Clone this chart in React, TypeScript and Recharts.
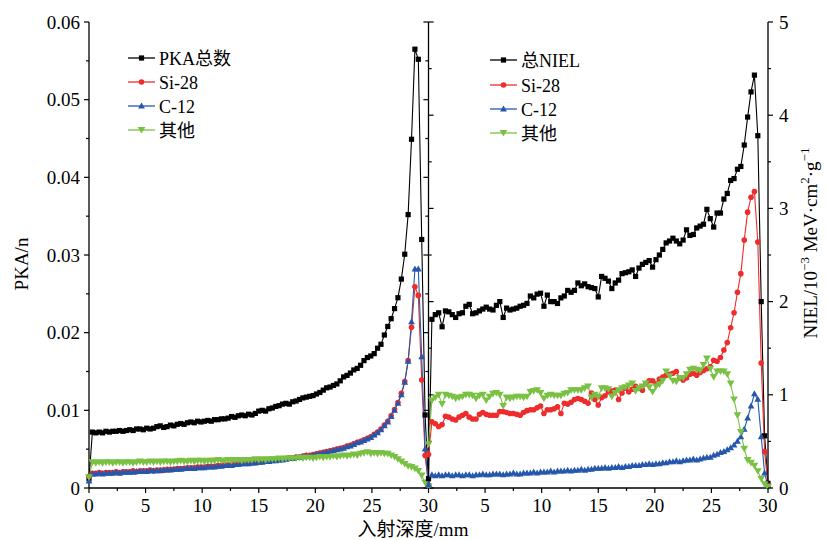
import React from "react";
import { LineChart, Line, XAxis, YAxis, ReferenceLine } from "recharts";

const FONT = "Liberation Serif, DejaVu Serif, Noto Sans CJK SC, serif";
const BLACK = "#000000";
const RED = "#ee2c2c";
const BLUE = "#2557ad";
const GREEN = "#79c143";

// depth (mm), same grid for both panels
const depth = [
  0, 0.3, 0.6, 0.9, 1.2, 1.5, 1.8, 2.1, 2.4, 2.7,
  3, 3.3, 3.6, 3.9, 4.2, 4.5, 4.8, 5.1, 5.4, 5.7,
  6, 6.3, 6.6, 6.9, 7.2, 7.5, 7.8, 8.1, 8.4, 8.7,
  9, 9.3, 9.6, 9.9, 10.2, 10.5, 10.8, 11.1, 11.4, 11.7,
  12, 12.3, 12.6, 12.9, 13.2, 13.5, 13.8, 14.1, 14.4, 14.7,
  15, 15.3, 15.6, 15.9, 16.2, 16.5, 16.8, 17.1, 17.4, 17.7,
  18, 18.3, 18.6, 18.9, 19.2, 19.5, 19.8, 20.1, 20.4, 20.7,
  21, 21.3, 21.6, 21.9, 22.2, 22.5, 22.8, 23.1, 23.4, 23.7,
  24, 24.3, 24.6, 24.9, 25.2, 25.5, 25.8, 26.1, 26.4, 26.7,
  27, 27.3, 27.6, 27.9, 28.2, 28.5, 28.8, 29.1, 29.4, 29.7,
  30,
];

// PKA/n, in units of 1e-3
const pkaTotal = [
  1.2, 7.2, 7.1, 7.2, 7.1, 7.3, 7.2, 7.3, 7.3, 7.4,
  7.3, 7.4, 7.5, 7.4, 7.6, 7.6, 7.5, 7.7, 7.6, 7.7,
  7.9, 8.0, 7.8, 7.9, 8.1, 8.0, 8.2, 8.3, 8.2, 8.4,
  8.5, 8.4, 8.6, 8.5, 8.6, 8.7, 8.6, 8.8, 8.8, 8.9,
  8.9, 9.0, 9.2, 9.1, 9.3, 9.4, 9.3, 9.5, 9.4, 9.6,
  9.9, 10.0, 9.9, 10.2, 10.3, 10.5, 10.6, 10.8, 10.9, 10.8,
  11.1, 11.2, 11.4, 11.6, 11.7, 11.8, 11.9, 12.1, 12.3, 12.6,
  12.9, 13.0, 13.2, 13.4, 13.8, 14.3, 14.5, 14.8, 15.2, 15.4,
  15.8, 16.4, 16.8, 17.0, 17.3, 18.0, 18.5, 19.7, 20.8, 21.8,
  23.1, 24.5, 26.9, 30.1, 35.2, 44.9, 56.5, 55.2, 32.0, 9.4,
  0.3,
];
const pkaSi = [
  1.5, 1.9, 1.9, 2.0, 1.9, 2.0, 2.0, 2.0, 2.1, 2.0,
  2.1, 2.1, 2.1, 2.2, 2.1, 2.2, 2.2, 2.2, 2.3, 2.2,
  2.3, 2.3, 2.3, 2.4, 2.4, 2.4, 2.5, 2.5, 2.5, 2.6,
  2.6, 2.6, 2.7, 2.7, 2.7, 2.8, 2.8, 2.8, 2.9, 2.9,
  3.0, 3.0, 3.0, 3.1, 3.1, 3.2, 3.2, 3.2, 3.3, 3.3,
  3.4, 3.4, 3.5, 3.5, 3.6, 3.6, 3.7, 3.7, 3.8, 3.9,
  3.9, 4.0, 4.0, 4.1, 4.2, 4.2, 4.3, 4.4, 4.5, 4.6,
  4.7, 4.8, 4.9, 5.0, 5.1, 5.2, 5.4, 5.5, 5.7, 5.9,
  6.0, 6.2, 6.4, 6.6, 6.9, 7.2, 7.6, 8.1, 8.6, 9.3,
  10.1, 11.0, 12.2, 13.7, 16.4, 20.7, 25.9, 24.8, 13.9, 4.2,
  0.3,
];
const pkaC = [
  0.9, 1.8, 1.8, 1.9, 1.8, 1.9, 1.9, 1.9, 2.0, 1.9,
  2.0, 2.0, 2.0, 2.0, 2.1, 2.1, 2.1, 2.1, 2.2, 2.2,
  2.2, 2.2, 2.3, 2.3, 2.3, 2.4, 2.4, 2.4, 2.5, 2.5,
  2.5, 2.5, 2.6, 2.6, 2.6, 2.7, 2.7, 2.7, 2.8, 2.8,
  2.9, 2.9, 2.9, 3.0, 3.0, 3.1, 3.1, 3.1, 3.2, 3.2,
  3.3, 3.3, 3.4, 3.4, 3.5, 3.5, 3.6, 3.6, 3.7, 3.8,
  3.8, 3.9, 3.9, 4.0, 4.1, 4.1, 4.2, 4.3, 4.4, 4.5,
  4.6, 4.7, 4.8, 4.9, 5.0, 5.1, 5.3, 5.4, 5.6, 5.8,
  5.9, 6.1, 6.3, 6.5, 6.8, 7.1, 7.5, 8.0, 8.5, 9.2,
  10.0, 10.9, 12.0, 13.6, 16.3, 21.4, 28.2, 28.2, 16.9, 5.0,
  0.5,
];
const pkaOther = [
  1.4, 3.3, 3.2, 3.3, 3.2, 3.3, 3.3, 3.2, 3.3, 3.3,
  3.2, 3.3, 3.3, 3.2, 3.3, 3.4, 3.3, 3.3, 3.4, 3.3,
  3.4, 3.3, 3.4, 3.4, 3.3, 3.4, 3.4, 3.5, 3.4, 3.4,
  3.5, 3.4, 3.5, 3.5, 3.4, 3.5, 3.5, 3.5, 3.6, 3.5,
  3.5, 3.6, 3.5, 3.6, 3.6, 3.5, 3.6, 3.6, 3.6, 3.7,
  3.6, 3.7, 3.6, 3.7, 3.7, 3.7, 3.8, 3.7, 3.8, 3.8,
  3.8, 3.8, 3.9, 3.8, 3.9, 3.9, 3.8, 3.9, 4.0, 3.9,
  4.0, 4.0, 4.1, 4.0, 4.1, 4.2, 4.1, 4.2, 4.3, 4.2,
  4.4, 4.5, 4.6, 4.4, 4.5, 4.4, 4.5, 4.4, 4.4, 4.2,
  4.0, 3.7, 3.4, 3.1, 2.8, 2.7, 2.5, 2.2, 1.6, 0.7,
  0.2,
];

// NIEL, 1e-3 MeV cm2/g
const nielTotal = [
  0.10, 1.81, 1.86, 1.88, 1.73, 1.90, 1.89, 1.86, 1.83, 1.87,
  1.88, 1.95, 1.97, 1.87, 1.88, 1.90, 1.92, 1.94, 1.92, 1.91,
  1.96, 2.00, 1.83, 1.93, 1.91, 1.92, 1.93, 1.95, 1.96, 1.98,
  2.06, 2.04, 2.08, 2.09, 1.95, 2.07, 2.00, 2.00, 1.98, 2.04,
  2.06, 2.12, 2.10, 2.12, 2.20, 2.17, 2.19, 2.16, 2.15, 2.14,
  2.05, 2.27, 2.25, 2.22, 2.14, 2.20, 2.23, 2.30, 2.31, 2.32,
  2.34, 2.27, 2.36, 2.40, 2.42, 2.44, 2.37, 2.45, 2.50, 2.56,
  2.63, 2.65, 2.68, 2.65, 2.62, 2.66, 2.77, 2.71, 2.72, 2.79,
  2.81, 2.83, 2.99, 2.89, 2.80, 2.95, 2.95, 3.10, 3.16, 3.30,
  3.32, 3.42, 3.45, 3.68, 3.98, 4.25, 4.43, 3.78, 2.00, 0.56,
  0.05,
];
const nielSi = [
  0.36, 0.71, 0.69, 0.66, 0.68, 0.77, 0.76, 0.74, 0.73, 0.76,
  0.78, 0.80, 0.76, 0.74, 0.74, 0.79, 0.81, 0.79, 0.78, 0.78,
  0.78, 0.82, 0.82, 0.81, 0.80, 0.80, 0.79, 0.78, 0.81, 0.83,
  0.84, 0.84, 0.86, 0.88, 0.80, 0.84, 0.84, 0.85, 0.87, 0.80,
  0.91, 0.90, 0.92, 0.95, 0.96, 0.95, 0.93, 0.91, 1.02, 0.95,
  0.89, 0.97, 0.99, 1.03, 1.04, 1.05, 0.95, 1.02, 1.07, 1.03,
  1.06, 1.09, 1.07, 1.05, 1.12, 1.15, 1.15, 1.12, 1.17, 1.19,
  1.21, 1.22, 1.23, 1.25, 1.18, 1.16, 1.18, 1.22, 1.23, 1.21,
  1.24, 1.26, 1.28, 1.30, 1.37, 1.36, 1.40, 1.48, 1.56, 1.72,
  1.88, 2.10, 2.30, 2.66, 2.96, 3.12, 3.18, 2.64, 1.34, 0.39,
  0.03,
];
const nielC = [
  0.03, 0.14, 0.13, 0.14, 0.13, 0.14, 0.14, 0.13, 0.14, 0.14,
  0.13, 0.14, 0.14, 0.13, 0.14, 0.14, 0.15, 0.14, 0.14, 0.15,
  0.15, 0.15, 0.14, 0.15, 0.15, 0.16, 0.15, 0.15, 0.16, 0.16,
  0.16, 0.17, 0.16, 0.17, 0.17, 0.17, 0.18, 0.17, 0.18, 0.18,
  0.18, 0.19, 0.18, 0.19, 0.19, 0.20, 0.19, 0.20, 0.20, 0.21,
  0.21, 0.21, 0.22, 0.21, 0.22, 0.22, 0.23, 0.22, 0.23, 0.23,
  0.24, 0.24, 0.24, 0.25, 0.25, 0.26, 0.25, 0.26, 0.26, 0.27,
  0.27, 0.28, 0.28, 0.29, 0.28, 0.29, 0.30, 0.30, 0.31, 0.30,
  0.31, 0.32, 0.33, 0.33, 0.35, 0.36, 0.38, 0.39, 0.41, 0.43,
  0.46, 0.50, 0.55, 0.63, 0.75, 0.88, 1.01, 0.95, 0.55, 0.16,
  0.02,
];
const nielOther = [
  0.47, 0.94, 0.97, 1.00, 0.90, 1.00, 0.99, 0.98, 0.96, 0.97,
  0.98, 1.00, 1.00, 0.99, 0.96, 0.99, 1.00, 0.94, 0.98, 1.01,
  1.02, 1.00, 0.88, 0.97, 0.96, 0.97, 0.98, 0.98, 0.97, 0.98,
  1.03, 1.04, 1.05, 1.02, 0.96, 0.99, 1.00, 0.99, 0.99, 0.99,
  1.01, 1.02, 1.05, 1.05, 1.05, 1.05, 1.07, 1.09, 0.97, 1.00,
  0.98, 1.07, 1.07, 1.06, 0.98, 1.02, 1.05, 1.07, 1.08, 1.10,
  1.12, 1.04, 1.07, 1.09, 1.12, 1.08, 1.03, 1.09, 1.11, 1.15,
  1.25, 1.20, 1.15, 1.14, 1.18, 1.18, 1.22, 1.27, 1.28, 1.27,
  1.26, 1.32, 1.39, 1.28, 1.19, 1.25, 1.25, 1.25, 1.22, 1.12,
  0.95, 0.78, 0.60, 0.42, 0.30, 0.27, 0.24, 0.18, 0.10, 0.04,
  0.01,
];

// ticks: x runs 0-60, right panel shifted by 30
const xTicks = [0, 2.5, 5, 7.5, 10, 12.5, 15, 17.5, 20, 22.5, 25, 27.5, 30,
  32.5, 35, 37.5, 40, 42.5, 45, 47.5, 50, 52.5, 55, 57.5, 60];
const pkaTicks = [0, 5, 10, 15, 20, 25, 30, 35, 40, 45, 50, 55, 60];
const nielTicks = [0, 0.5, 1, 1.5, 2, 2.5, 3, 3.5, 4, 4.5, 5];

const leftData = depth.map((x, i) => ({
  x, total: pkaTotal[i], si: pkaSi[i], c: pkaC[i], other: pkaOther[i],
}));
const rightData = depth.map((x, i) => ({
  x: x + 30, total: nielTotal[i], si: nielSi[i], c: nielC[i], other: nielOther[i],
}));

// marker shapes
const square = (cx: number, cy: number, color: string, key?: any) => (
  <rect key={key} x={cx - 2.6} y={cy - 2.6} width={5.2} height={5.2} fill={color} />
);
const circle = (cx: number, cy: number, color: string, key?: any) => (
  <circle key={key} cx={cx} cy={cy} r={2.8} fill={color} />
);
const triUp = (cx: number, cy: number, color: string, key?: any) => (
  <path key={key} d={`M${cx},${cy - 3.6}L${cx + 3.4},${cy + 2.4}L${cx - 3.4},${cy + 2.4}Z`} fill={color} />
);
const triDown = (cx: number, cy: number, color: string, key?: any) => (
  <path key={key} d={`M${cx},${cy + 3.6}L${cx + 3.9},${cy - 3}L${cx - 3.9},${cy - 3}Z`} fill={color} />
);

const dotOf = (shape: typeof square, color: string) => (p: any) => {
  if (p.cx == null || p.cy == null) return <g key={`e${p.index}`} />;
  return shape(p.cx, p.cy, color, `d${p.index}`);
};

const BottomTick = (p: any) => {
  const { x, y, payload } = p;
  const v = payload.value;
  const major = v % 5 === 0;
  return (
    <g>
      <line x1={x} x2={x} y1={y} y2={y + (major ? 5 : 3)} stroke="#000" strokeWidth={1.2} />
      {major && (
        <text x={x} y={y + 24} textAnchor="middle" fontFamily={FONT} fontSize={19} fill="#000">
          {v > 30 ? v - 30 : v}
        </text>
      )}
    </g>
  );
};

const LeftTick = (p: any) => {
  const { x, y, payload } = p;
  const v = payload.value;
  const major = v % 10 === 0;
  return (
    <g>
      <line x1={x} x2={x - (major ? 5 : 3)} y1={y} y2={y} stroke="#000" strokeWidth={1.2} />
      {major && (
        <text x={x - 9} y={y + 6.5} textAnchor="end" fontFamily={FONT} fontSize={19} fill="#000">
          {v === 0 ? "0" : (v / 1000).toFixed(2)}
        </text>
      )}
    </g>
  );
};

const RightTick = (p: any) => {
  const { x, y, payload } = p;
  const v = payload.value;
  const major = Number.isInteger(v);
  return (
    <g>
      <line x1={x} x2={x + (major ? 5 : 3)} y1={y} y2={y} stroke="#000" strokeWidth={1.2} />
      {major && (
        <text x={x + 11} y={y + 6.5} textAnchor="start" fontFamily={FONT} fontSize={19} fill="#000">
          {v}
        </text>
      )}
    </g>
  );
};

const leftLegend = [
  { label: "PKA总数", color: BLACK, shape: square },
  { label: "Si-28", color: RED, shape: circle },
  { label: "C-12", color: BLUE, shape: triUp },
  { label: "其他", color: GREEN, shape: triDown },
];
const rightLegend = [
  { label: "总NIEL", color: BLACK, shape: square },
  { label: "Si-28", color: RED, shape: circle },
  { label: "C-12", color: BLUE, shape: triUp },
  { label: "其他", color: GREEN, shape: triDown },
];

function LegendBlock({ items, x, ys }: { items: typeof leftLegend; x: number; ys: number[] }) {
  return (
    <g>
      {items.map((it, i) => (
        <g key={it.label + i}>
          <line x1={x} x2={x + 27} y1={ys[i]} y2={ys[i]} stroke={it.color} strokeWidth={1.3} />
          {it.shape(x + 13.5, ys[i], it.color)}
          <text x={x + 31} y={ys[i] + 6.5} fontFamily={FONT} fontSize={18} fill="#000">
            {it.label}
          </text>
        </g>
      ))}
    </g>
  );
}

export default function App() {
  const axisLine = { stroke: "#000", strokeWidth: 1.3 };
  return (
    <div style={{ position: "absolute", left: 0, top: 0, width: 826, height: 540, background: "#fff" }}>
      <LineChart width={826} height={540} margin={{ top: 22, right: 0, left: 0, bottom: 0 }}>
        <XAxis
          dataKey="x" type="number" domain={[0, 60]} ticks={xTicks} interval={0}
          height={52} tickSize={0} tickMargin={0} tickLine={false} tick={BottomTick} axisLine={axisLine}
        />
        <XAxis
          xAxisId="top" orientation="top" type="number" domain={[0, 60]} ticks={xTicks} interval={0}
          height={0} mirror tickSize={3} tick={false} tickLine={{ stroke: "#000", strokeWidth: 1.2 }} axisLine={axisLine}
        />
        <YAxis
          yAxisId="pka" type="number" domain={[0, 60]} ticks={pkaTicks} interval={0}
          width={89} tickSize={0} tickMargin={0} tickLine={false} tick={LeftTick} axisLine={axisLine}
        />
        <YAxis
          yAxisId="niel" orientation="right" type="number" domain={[0, 5]} ticks={nielTicks} interval={0}
          width={58} tickSize={0} tickMargin={0} tickLine={false} tick={RightTick} axisLine={axisLine}
        />
        <ReferenceLine x={30} yAxisId="pka" stroke="#000" strokeWidth={1.3} />
        {/* small ticks on the panel divider */}
        {pkaTicks.map((v) => (
          <ReferenceLine key={`pt${v}`} yAxisId="pka" stroke="#000" strokeWidth={1.2}
            segment={[{ x: v % 10 === 0 ? 29.55 : 29.72, y: v }, { x: 30, y: v }]} />
        ))}
        {nielTicks.map((v) => (
          <ReferenceLine key={`nt${v}`} yAxisId="niel" stroke="#000" strokeWidth={1.2}
            segment={[{ x: 30, y: v }, { x: Number.isInteger(v) ? 30.45 : 30.28, y: v }]} />
        ))}

        <Line data={leftData} dataKey="total" yAxisId="pka" type="linear" stroke={BLACK} strokeWidth={1.1}
          dot={dotOf(square, BLACK)} activeDot={false} isAnimationActive={false} />
        <Line data={leftData} dataKey="si" yAxisId="pka" type="linear" stroke={RED} strokeWidth={1.1}
          dot={dotOf(circle, RED)} activeDot={false} isAnimationActive={false} />
        <Line data={leftData} dataKey="c" yAxisId="pka" type="linear" stroke={BLUE} strokeWidth={1.1}
          dot={dotOf(triUp, BLUE)} activeDot={false} isAnimationActive={false} />
        <Line data={leftData} dataKey="other" yAxisId="pka" type="linear" stroke={GREEN} strokeWidth={1.1}
          dot={dotOf(triDown, GREEN)} activeDot={false} isAnimationActive={false} />

        <Line data={rightData} dataKey="total" yAxisId="niel" type="linear" stroke={BLACK} strokeWidth={1.1}
          dot={dotOf(square, BLACK)} activeDot={false} isAnimationActive={false} />
        <Line data={rightData} dataKey="si" yAxisId="niel" type="linear" stroke={RED} strokeWidth={1.1}
          dot={dotOf(circle, RED)} activeDot={false} isAnimationActive={false} />
        <Line data={rightData} dataKey="c" yAxisId="niel" type="linear" stroke={BLUE} strokeWidth={1.1}
          dot={dotOf(triUp, BLUE)} activeDot={false} isAnimationActive={false} />
        <Line data={rightData} dataKey="other" yAxisId="niel" type="linear" stroke={GREEN} strokeWidth={1.1}
          dot={dotOf(triDown, GREEN)} activeDot={false} isAnimationActive={false} />
      </LineChart>

      <svg width={826} height={540} style={{ position: "absolute", left: 0, top: 0, pointerEvents: "none" }}>
        <LegendBlock items={leftLegend} x={128} ys={[58, 82, 106, 130]} />
        <LegendBlock items={rightLegend} x={490} ys={[60, 85, 109, 133]} />
        <text transform="translate(28,264) rotate(-90)" textAnchor="middle" fontFamily={FONT} fontSize={19} fill="#000">
          PKA/n
        </text>
        <text x={413} y={536} textAnchor="middle" fontFamily={FONT} fontSize={19} fill="#000">
          入射深度/mm
        </text>
        <text transform="translate(817,243) rotate(-90)" textAnchor="middle" fontFamily={FONT} fontSize={19} fill="#000">
          NIEL/10<tspan dy={-8} fontSize={13}>−3</tspan>
          <tspan dy={8}> MeV·cm</tspan>
          <tspan dy={-8} fontSize={13}>2</tspan>
          <tspan dy={8}>·g</tspan>
          <tspan dy={-8} fontSize={13}>−1</tspan>
        </text>
      </svg>
    </div>
  );
}
